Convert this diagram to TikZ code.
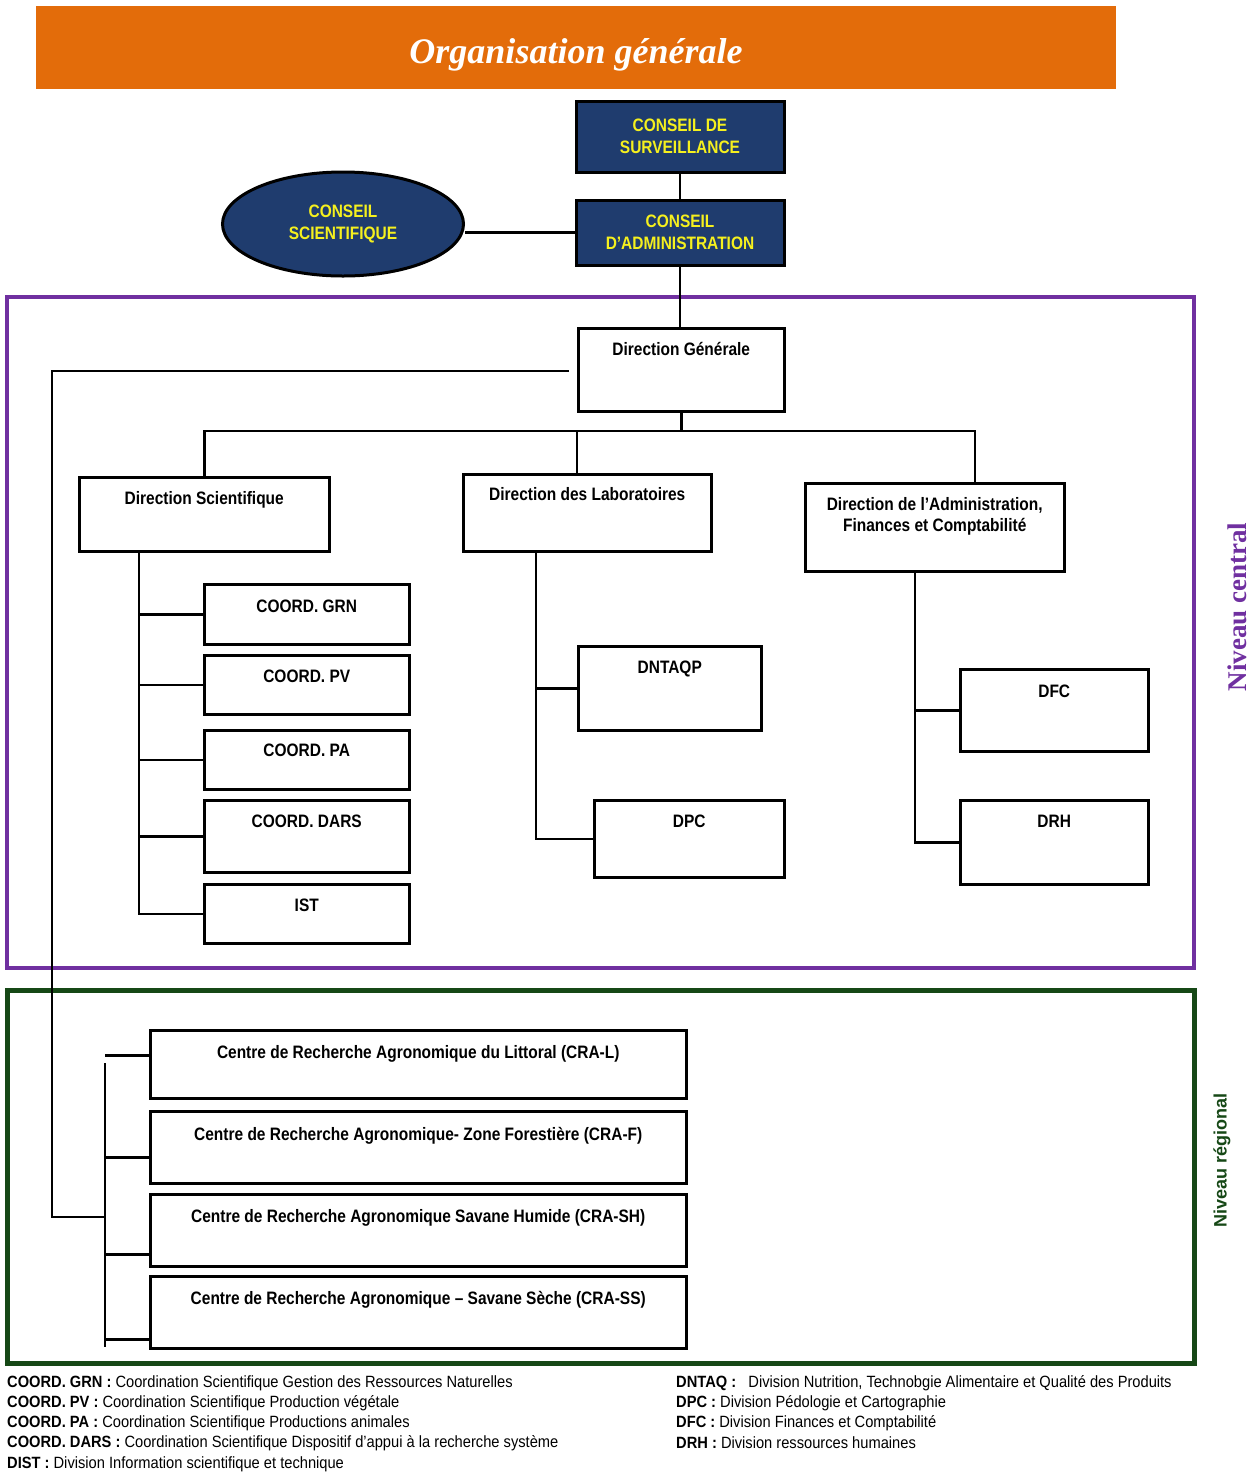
\documentclass[tikz,border=0pt]{standalone}
\usepackage{fontspec}
\setmainfont{Liberation Sans}
\newfontfamily\narrowfont{Liberation Sans}[FakeStretch=0.86]
\newfontfamily\legendfont{Liberation Sans}[FakeStretch=0.9]
\newfontfamily\serifbold{Liberation Serif}
\usepackage{tikz}
\usetikzlibrary{positioning,calc,shapes.geometric}
\definecolor{TitleOrange}{RGB}{227,108,10}
\definecolor{BoardBlue}{RGB}{31,60,110}
\definecolor{BoardYellow}{RGB}{245,240,30}
\definecolor{CentralPurple}{RGB}{112,48,160}
\definecolor{RegionGreen}{RGB}{22,72,22}
\tikzset{
  unit/.style={draw=black,line width=2.5pt,inner sep=0pt,anchor=north west,align=center,
    font=\narrowfont\bfseries\fontsize{18}{21}\selectfont},
  board/.style={draw=black,fill=BoardBlue,line width=3pt,inner sep=0pt,align=center,text=BoardYellow,
    font=\narrowfont\bfseries\fontsize{18}{22}\selectfont},
  link/.style={draw=black,line width=2.5pt},
  legend/.style={anchor=north west,inner sep=0pt,align=left,font=\legendfont\fontsize{16.3}{20.3}\selectfont},
}
\tikzset{th/.style 2 args={text height=#1pt,text depth=#2pt}}

\begin{document}
\begin{tikzpicture}[x=1pt,y=-1pt]
\useasboundingbox (0,0) rectangle (1257,1473);
\node[fill=TitleOrange,minimum width=1080pt,minimum height=83pt,inner sep=0pt,text=white,th={31}{0},
  font=\serifbold\bfseries\itshape\fontsize{36}{40}\selectfont] (title) at (576,47.5) {Organisation générale};
\node[board,minimum width=208pt,minimum height=71pt] (cs) at (680,136.5) {CONSEIL DE\\SURVEILLANCE};
\node[board,minimum width=208pt,minimum height=65pt] (ca) at (680,232.5) {CONSEIL\\D’ADMINISTRATION};
\node[board,ellipse,minimum width=241pt,minimum height=104pt] (sci) at (343,224) {CONSEIL\\SCIENTIFIQUE};

\draw[CentralPurple,line width=4pt] (7,297) rectangle (1194,968);
\draw[RegionGreen,line width=5pt] (7,990) rectangle (1194,1363);
\node[rotate=90,text=CentralPurple,font=\serifbold\bfseries\fontsize{27}{30}\selectfont] (central) at (1237,607) {Niveau central};
\node[rotate=90,text=RegionGreen,font=\bfseries\fontsize{18}{20}\selectfont] (regional) at (1222,1160) {Niveau régional};

\node[unit,th={27.5}{55.5},minimum width=206pt] (dg) at (577,327) {Direction Générale};
\node[unit,th={27.5}{46.5},minimum width=250pt] (ds) at (78,476) {Direction Scientifique};
\node[unit,th={26.5}{50.5},minimum width=248pt] (dl) at (462,473) {Direction des Laboratoires};
\node[unit,th={48.5}{39.5},minimum width=259pt] (da) at (804,482) {Direction de l’Administration,\\Finances et Comptabilité};

\node[unit,th={28.5}{31.5},minimum width=205pt] (grn) at (203,583) {COORD. GRN};
\node[unit,th={27.5}{31.5},minimum width=205pt] (pv) at (203,654) {COORD. PV};
\node[unit,th={26.5}{32.5},minimum width=205pt] (pa) at (203,729) {COORD. PA};
\node[unit,th={27.5}{44.5},minimum width=205pt] (dars) at (203,799) {COORD. DARS};
\node[unit,th={27.5}{31.5},minimum width=205pt] (ist) at (203,883) {IST};

\node[unit,th={27.5}{56.5},minimum width=183pt] (dntaqp) at (577,645) {DNTAQP};
\node[unit,th={27.5}{49.5},minimum width=190pt] (dpc) at (593,799) {DPC};
\node[unit,th={28.5}{53.5},minimum width=188pt] (dfc) at (959,668) {DFC};
\node[unit,th={27.5}{56.5},minimum width=188pt] (drh) at (959,799) {DRH};

\node[unit,th={28.5}{39.5},minimum width=536pt] (cral) at (149,1029) {Centre de Recherche Agronomique du Littoral (CRA-L)};
\node[unit,th={29.5}{42.5},minimum width=536pt] (craf) at (149,1110) {Centre de Recherche Agronomique- Zone Forestière (CRA-F)};
\node[unit,th={28.5}{43.5},minimum width=536pt] (crash) at (149,1193) {Centre de Recherche Agronomique Savane Humide (CRA-SH)};
\node[unit,th={28.5}{43.5},minimum width=536pt] (crass) at (149,1275) {Centre de Recherche Agronomique – Savane Sèche (CRA-SS)};

\draw[link] (cs.south) -- (ca.north);
\draw[link] (ca.west) -- (ca.west -| sci.east);
\draw[link] (ca.south) -- (ca.south |- dg.north);
\coordinate (jl) at (577,431); \coordinate (jr) at (975,431);
\draw[link] (dg.south) -- (dg.south |- jl);
\draw[link] (ds.north) |- (jr) -- (jr |- da.north);
\draw[link] (jl) -- (jl |- dl.north);

\coordinate (sb) at (139,550); \coordinate (lb) at (536,550); \coordinate (ab) at (915,570);
\draw[link] (sb) |- (ist.west);
\foreach \n in {grn,pv,pa,dars} \draw[link] (sb |- \n.west) -- (\n.west);
\draw[link] (lb) |- (dpc.west); \draw[link] (lb |- dntaqp.west) -- (dntaqp.west);
\draw[link] (ab) |- (drh.west); \draw[link] (ab |- dfc.west) -- (dfc.west);

\coordinate (dgl) at (569,371); \coordinate (rb) at (105,1217);
\coordinate (rtop) at (105,1063); \coordinate (rbot) at (105,1347);
\draw[link] (dgl) -- ++(-517,0) |- (rb);
\draw[link] (rtop) -- (rbot);
\draw[link] ([yshift=44pt]cral.south west) -- ++(-44,0);
\foreach \n/\s in {craf/27,crash/13,crass/10} \draw[link] ([yshift=\s pt]\n.south west) -- ++(-44,0);

\node[legend] (legl) at (7,1375) {\textbf{COORD. GRN :} Coordination Scientifique Gestion des Ressources Naturelles\\
\textbf{COORD. PV :} Coordination Scientifique Production végétale\\
\textbf{COORD. PA :} Coordination Scientifique Productions animales\\
\textbf{COORD. DARS :} Coordination Scientifique Dispositif d’appui à la recherche système\\
\textbf{DIST :} Division Information scientifique et technique};
\node[legend] (legr) at (676,1375) {\textbf{DNTAQ :}\ \ \ Division Nutrition, Technobgie Alimentaire et Qualité des Produits\\
\textbf{DPC :} Division Pédologie et Cartographie\\
\textbf{DFC :} Division Finances et Comptabilité\\
\textbf{DRH :} Division ressources humaines};
\end{tikzpicture}
\end{document}
